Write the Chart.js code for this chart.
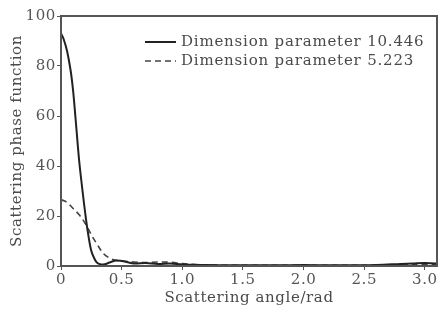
<!DOCTYPE html>
<html>
<head>
<meta charset="utf-8">
<script src="https://cdn.jsdelivr.net/npm/chart.js@4/dist/chart.umd.min.js"></script>
<style>
  html, body { margin: 0; padding: 0; background: #fff; }
  #wrap { width: 440px; height: 311px; position: relative; }
</style>
</head>
<body>
<div id="wrap"><canvas id="c"></canvas></div>
<script>
// Datos
const anguloSolido = [0, 0.02, 0.05, 0.08, 0.1, 0.12, 0.15, 0.18, 0.2, 0.22, 0.25, 0.28, 0.3, 0.33, 0.36, 0.4, 0.45, 0.5, 0.55, 0.6, 0.7, 0.8, 0.9, 1.0, 1.1, 1.2, 1.4, 1.6, 1.8, 2.0, 2.2, 2.4, 2.6, 2.8, 2.9, 3.0, 3.1, 3.14];
const faseSolida = [93, 91, 86, 78, 70, 59, 42, 29, 21, 14, 6, 2.5, 1.2, 0.6, 0.7, 1.4, 2.2, 2.0, 1.5, 1.0, 1.2, 0.8, 1.0, 0.6, 0.5, 0.4, 0.3, 0.3, 0.3, 0.4, 0.3, 0.3, 0.4, 0.8, 1.0, 1.2, 1.0, 0.8];
const anguloDiscontinuo = [0, 0.03, 0.06, 0.1, 0.15, 0.2, 0.25, 0.3, 0.35, 0.4, 0.45, 0.5, 0.6, 0.7, 0.8, 0.9, 1.0, 1.1, 1.2, 1.4, 1.6, 1.8, 2.0, 2.2, 2.4, 2.6, 2.8, 3.0, 3.14];
const faseDiscontinua = [26.5, 26, 25, 23, 20.5, 17, 12.5, 8.5, 5, 3.2, 2.3, 2.0, 1.6, 1.4, 1.6, 1.5, 1.0, 0.6, 0.4, 0.3, 0.3, 0.3, 0.3, 0.3, 0.3, 0.3, 0.4, 0.5, 0.5];
const etiquetas = ['Dimension parameter 10.446', 'Dimension parameter 5.223'];
const ticksX = [0, 0.5, 1.0, 1.5, 2.0, 2.5, 3.0];

const puntos = (xs, ys) => xs.map((x, i) => ({ x: x, y: ys[i] }));
const fuente = "'DejaVu Serif', 'Liberation Serif', serif";
const gris = '#555';
const espaciado = '0.6px';

// Espaciado de letras algo más ancho, como en la figura original
const espaciadoTexto = {
  id: 'espaciadoTexto',
  beforeUpdate(chart) { chart.ctx.letterSpacing = espaciado; },
  beforeDraw(chart) { chart.ctx.letterSpacing = espaciado; }
};

// Marco completo y leyenda dentro del área del gráfico
const marcoYLeyenda = {
  id: 'marcoYLeyenda',
  afterDraw(chart) {
    const { ctx, chartArea: a } = chart;
    ctx.save();
    ctx.strokeStyle = gris;
    ctx.lineWidth = 2;
    ctx.strokeRect(a.left, a.top, a.right - a.left, a.bottom - a.top);

    ctx.font = '15px ' + fuente;
    ctx.letterSpacing = '0.8px';
    ctx.fillStyle = '#4a4a4a';
    ctx.textBaseline = 'middle';
    chart.data.datasets.forEach((ds, i) => {
      const y = 42 + i * 19;
      ctx.beginPath();
      ctx.strokeStyle = ds.borderColor;
      ctx.lineWidth = ds.borderWidth;
      ctx.setLineDash(ds.borderDash || []);
      ctx.moveTo(145, y);
      ctx.lineTo(176, y);
      ctx.stroke();
      ctx.setLineDash([]);
      ctx.fillText(ds.label, 181, y);
    });
    ctx.restore();
  }
};

new Chart(document.getElementById('c'), {
  type: 'line',
  data: {
    datasets: [{
      label: etiquetas[0],
      data: puntos(anguloSolido, faseSolida),
      borderColor: '#222',
      borderWidth: 2,
      pointRadius: 0,
      tension: 0.35,
      fill: false
    }, {
      label: etiquetas[1],
      data: puntos(anguloDiscontinuo, faseDiscontinua),
      borderColor: '#444',
      borderWidth: 1.6,
      borderDash: [6, 4],
      pointRadius: 0,
      tension: 0.35,
      fill: false
    }]
  },
  options: {
    responsive: true,
    maintainAspectRatio: false,
    animation: false,
    layout: { padding: { top: 16, right: 3, left: 4, bottom: 0 } },
    plugins: {
      legend: { display: false },
      tooltip: { enabled: false }
    },
    scales: {
      x: {
        type: 'linear',
        min: 0,
        max: 3.1,
        afterBuildTicks: (scale) => { scale.ticks = ticksX.map(v => ({ value: v })); },
        afterFit: (scale) => { scale.height = 45; },
        ticks: {
          color: gris,
          font: { family: fuente, size: 15 },
          padding: 1,
          maxRotation: 0,
          callback: (v) => v === 0 ? '0' : v.toFixed(1)
        },
        grid: { display: true, drawOnChartArea: false, tickLength: 4, color: gris },
        border: { color: gris, width: 2 },
        title: {
          display: true,
          text: 'Scattering angle/rad',
          color: '#4a4a4a',
          font: { family: fuente, size: 15 },
          padding: { top: 0 }
        }
      },
      y: {
        min: 0,
        max: 100,
        afterFit: (scale) => { scale.width = 57; },
        ticks: {
          stepSize: 20,
          color: gris,
          font: { family: fuente, size: 15 },
          padding: 1
        },
        grid: { display: true, drawOnChartArea: false, tickLength: 4, color: gris },
        border: { color: gris, width: 2 },
        title: {
          display: true,
          text: 'Scattering phase function',
          color: '#4a4a4a',
          font: { family: fuente, size: 15 },
          padding: { bottom: 0 }
        }
      }
    }
  },
  plugins: [espaciadoTexto, marcoYLeyenda]
});
</script>
</body>
</html>
